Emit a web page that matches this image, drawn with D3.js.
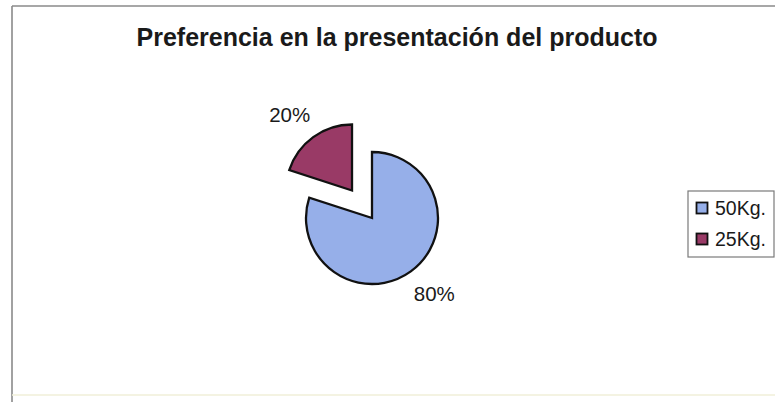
<!DOCTYPE html>
<html>
<head>
<meta charset="utf-8">
<script src="https://cdn.jsdelivr.net/npm/d3@7"></script>
<style>
  html, body { margin: 0; padding: 0; background: #fff; }
  svg { display: block; }
  text { font-family: "Liberation Sans", Arial, sans-serif; fill: #1a1a1a; }
</style>
</head>
<body>
<svg id="chart" width="775" height="402"></svg>
<script>
// Data
const title = "Preferencia en la presentación del producto";
const categories = ["50Kg.", "25Kg."];
const values = [80, 20];
const colors = ["#96afe9", "#993a66"];
// Which slices are pulled away from the centre
const exploded = [false, true];

const svg = d3.select("#chart");
const W = 775, H = 402;

// Chart frame
svg.append("line").attr("x1", 12).attr("y1", 6).attr("x2", W).attr("y2", 6)
  .attr("stroke", "#8a8a8a").attr("stroke-width", 1.6);
svg.append("line").attr("x1", 12).attr("y1", 6).attr("x2", 12).attr("y2", H)
  .attr("stroke", "#8a8a8a").attr("stroke-width", 1.6);
svg.append("line").attr("x1", 12).attr("y1", 395).attr("x2", W).attr("y2", 395)
  .attr("stroke", "#f1efd8").attr("stroke-width", 1.5);

// Title
svg.append("text")
  .attr("x", 397).attr("y", 46)
  .attr("text-anchor", "middle")
  .style("font-weight", "bold").style("font-size", "25px")
  .text(title);

// Pie
const cx = 372, cy = 218, r = 66, explodeDist = 34;
const total = d3.sum(values);
const pie = d3.pie().sort(null).value(d => d)(values);
const arc = d3.arc().innerRadius(0).outerRadius(r);

const g = svg.append("g").attr("transform", `translate(${cx},${cy})`);

// label box half-extents, used to push labels clear of the rim
const halfW = 20, halfH = 8, labelR = 86;

pie.forEach((p, i) => {
  const mid = (p.startAngle + p.endAngle) / 2;
  const sx = Math.sin(mid), sy = -Math.cos(mid);
  const d = exploded[i] ? explodeDist : 0;
  const sg = g.append("g").attr("transform", `translate(${sx * d},${sy * d})`);
  sg.append("path")
    .attr("d", arc(p))
    .attr("fill", colors[i])
    .attr("stroke", "#111")
    .attr("stroke-width", 2.3)
    .attr("stroke-linejoin", "miter");
  // percentage label just outside the slice
  sg.append("text")
    .attr("x", sx * (labelR + halfW)).attr("y", sy * (labelR + halfH))
    .attr("dy", "0.36em")
    .attr("text-anchor", "middle")
    .style("font-size", "20.5px")
    .text(Math.round(p.data / total * 100) + "%");
});

// Legend
const lg = svg.append("g").attr("transform", "translate(688,191)");
lg.append("rect").attr("x", 0).attr("y", 0).attr("width", 86).attr("height", 66)
  .attr("fill", "#fff").attr("stroke", "#7a7a7a").attr("stroke-width", 1.2);
categories.forEach((c, i) => {
  const y = 17 + i * 31;
  lg.append("rect").attr("x", 8.5).attr("y", y - 5.5).attr("width", 11).attr("height", 11)
    .attr("fill", colors[i]).attr("stroke", "#111").attr("stroke-width", 1.8);
  lg.append("text").attr("x", 27).attr("y", y).attr("dy", "0.36em")
    .style("font-size", "19.5px").text(c);
});
</script>
</body>
</html>
